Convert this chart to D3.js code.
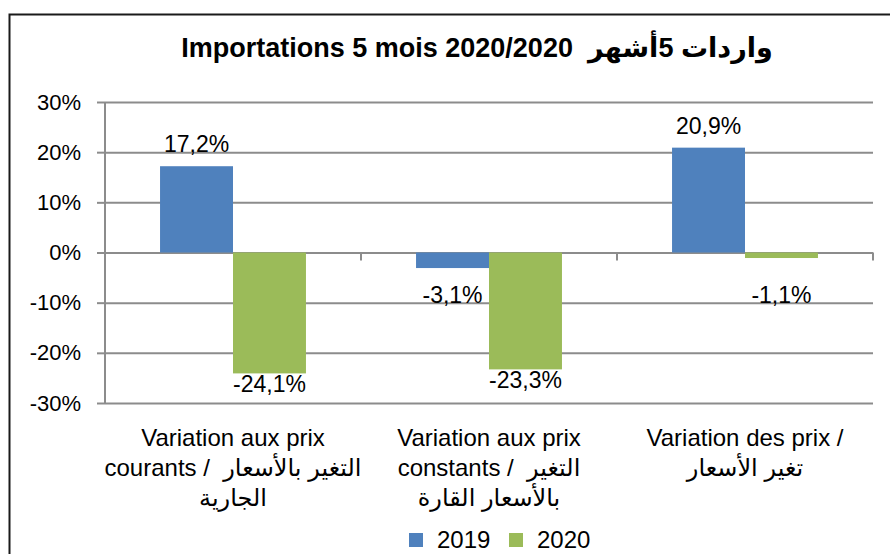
<!DOCTYPE html>
<html>
<head>
<meta charset="utf-8">
<script src="https://cdn.jsdelivr.net/npm/d3@7"></script>
<style>
  body { margin: 0; background: #fff; }
  svg { display: block; font-family: "Liberation Sans", Arial, "DejaVu Sans", sans-serif; }
  text { white-space: pre; }
  .tickText { font-size: 22px; fill: #000; }
  .catText { font-size: 24px; fill: #000; }
  .barLabel { font-size: 23px; fill: #000; }
</style>
</head>
<body>
<div id="chart"></div>
<script>
// data
const categories = ["prix courants", "prix constants", "prix"];
const categoryLines = [
    ["Variation aux prix", "courants /  التغير بالأسعار", "الجارية"],
    ["Variation aux prix", "constants /  التغير", "بالأسعار القارة"],
    ["Variation des prix /", "تغير الأسعار"]
];
const seriesNames = ["2019", "2020"];
const values2019 = [0.172, -0.031, 0.209];
const values2020 = [-0.241, -0.233, -0.011];
const yTicks = [-0.3, -0.2, -0.1, 0, 0.1, 0.2, 0.3];
const titleText = "Importations 5 mois 2020/2020  واردات 5أشهر";

const colors = ["#4F81BD", "#9BBB59"];

{
    const W = 890, H = 554;
    const margin = {top: 102, right: 17, bottom: 151, left: 105},
    width = W - margin.left - margin.right,
    height = H - margin.top - margin.bottom;

    const root = d3.select("#chart")
        .append("svg")
        .attr("width", W)
        .attr("height", H);

    // outer frame
    root.append("rect")
        .attr("x", 9.5).attr("y", 14.5)
        .attr("width", 900).attr("height", 600)
        .attr("fill", "none")
        .attr("stroke", "#1a1a1a")
        .attr("stroke-width", 2);

    root.append("text")
        .attr("x", 477)
        .attr("y", 57)
        .attr("text-anchor", "middle")
        .style("font-size", "27px")
        .style("font-weight", "bold")
        .text(titleText);

    const svg = root.append("g")
        .attr("transform", `translate(${margin.left},${margin.top})`);

    const data = categories.map((c, i) => ({cat: c, vals: [values2019[i], values2020[i]]}));

    const x = d3.scaleBand()
        .domain(categories)
        .range([0, width])
        .paddingInner(0)
        .paddingOuter(0);

    const x1 = d3.scaleBand()
        .domain(seriesNames)
        .range([x.bandwidth() * 0.215, x.bandwidth() * 0.785]);

    const y = d3.scaleLinear()
        .domain([-0.3, 0.3])
        .range([height, 0]);

    // gridlines
    svg.append("g")
        .attr("class", "axisGrid")
        .call(d3.axisLeft(y).tickValues(yTicks).tickSize(-width).tickFormat(""))
        .call(g => g.select(".domain").remove())
        .call(g => g.selectAll("line").attr("stroke", "#8c8c8c").attr("stroke-width", 2));

    // y axis
    svg.append("g")
        .call(d3.axisLeft(y).tickValues(yTicks).tickSize(8).tickPadding(16)
            .tickFormat(d => Math.round(d * 100) + "%"))
        .call(g => g.select(".domain").attr("stroke", "#8c8c8c").attr("stroke-width", 2).attr("d", `M0,0V${height}`))
        .call(g => g.selectAll("line").attr("stroke", "#8c8c8c").attr("stroke-width", 2))
        .call(g => g.selectAll("text").attr("class", "tickText").attr("font-family", null).attr("font-size", null));

    // category ticks on zero line
    svg.append("g")
        .selectAll("line")
        .data(categories)
        .join("line")
        .attr("x1", d => x(d) + x.bandwidth())
        .attr("x2", d => x(d) + x.bandwidth())
        .attr("y1", y(0))
        .attr("y2", y(0) + 8)
        .attr("stroke", "#8c8c8c")
        .attr("stroke-width", 2);

    // bars
    const groups = svg.selectAll(".grp")
        .data(data)
        .join("g")
        .attr("class", "grp")
        .attr("transform", d => `translate(${x(d.cat)},0)`);

    const bars = groups.selectAll("g.bar")
        .data(d => d.vals.map((v, i) => ({key: seriesNames[i], v: v, i: i})))
        .join("g")
        .attr("class", "bar");

    bars.append("rect")
        .attr("x", d => x1(d.key))
        .attr("width", x1.bandwidth())
        .attr("y", d => y(Math.max(0, d.v)))
        .attr("height", d => Math.abs(y(d.v) - y(0)))
        .attr("fill", d => colors[d.i]);

    bars.append("text")
        .attr("class", "barLabel")
        .attr("text-anchor", "middle")
        .attr("x", d => x1(d.key) + x1.bandwidth() / 2)
        .attr("y", d => d.v >= 0 ? y(d.v) - 14 : Math.max(y(d.v) + 19, y(0) + 50))
        .text(d => (d.v * 100).toFixed(1).replace(".", ",") + "%");

    // category labels
    svg.append("g")
        .selectAll("text")
        .data(categories)
        .join("text")
        .attr("class", "catText")
        .attr("text-anchor", "middle")
        .attr("transform", d => `translate(${x(d) + x.bandwidth() / 2},${height + 43})`)
        .selectAll("tspan")
        .data((d, i) => categoryLines[i])
        .join("tspan")
        .attr("x", 0)
        .attr("y", (d, i) => i * 30)
        .text(d => d);

    // legend
    const legend = root.append("g")
        .attr("transform", "translate(409,533)");
    const item = legend.selectAll("g")
        .data(seriesNames)
        .join("g")
        .attr("transform", (d, i) => `translate(${i * 100},0)`);
    item.append("rect")
        .attr("width", 14).attr("height", 14)
        .attr("fill", (d, i) => colors[i]);
    item.append("text")
        .attr("class", "catText")
        .attr("x", 28)
        .attr("y", 15)
        .text(d => d);
}
</script>
</body>
</html>
